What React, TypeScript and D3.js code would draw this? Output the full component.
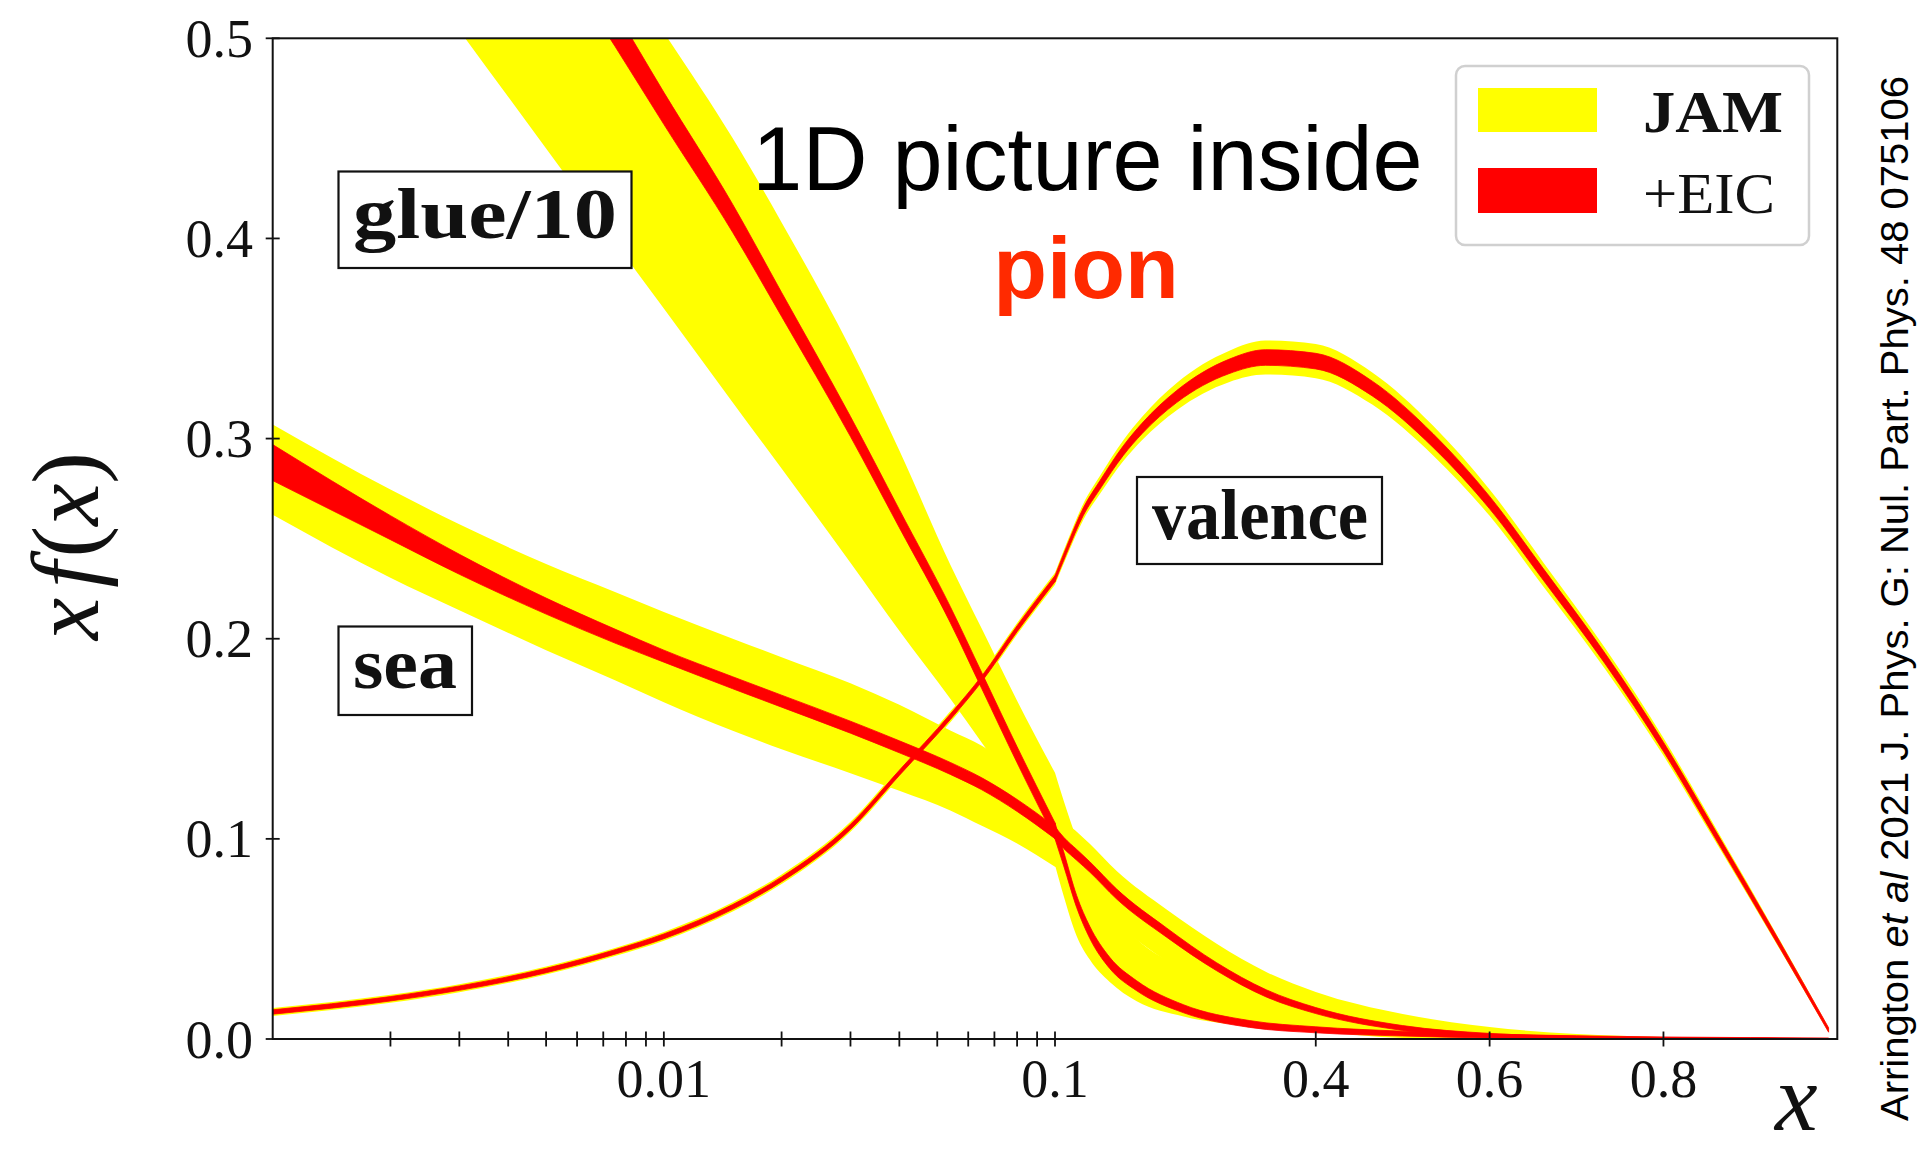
import React from "react";
import * as d3 from "d3";

// ---------------- data ----------------
// glue / 10
const glueX = [0.002, 0.003, 0.005, 0.0075, 0.01, 0.015, 0.02, 0.03, 0.04, 0.054, 0.065, 0.08, 0.1, 0.11, 0.125, 0.14, 0.163, 0.194, 0.248, 0.324, 0.4, 0.5, 0.6, 0.7, 0.8, 0.9, 0.99];
const glueMid = [0.677, 0.626, 0.559, 0.505, 0.465, 0.41, 0.367, 0.306, 0.26, 0.212, 0.179, 0.142, 0.104, 0.09, 0.0686, 0.0533, 0.038, 0.0266, 0.0151, 0.0075, 0.0046, 0.0027, 0.0015, 0.0008, 0.0004, 0.0002, 0.0];
const glueJamLo = [0.551, 0.504, 0.445, 0.398, 0.365, 0.318, 0.285, 0.238, 0.204, 0.17, 0.148, 0.122, 0.087, 0.0715, 0.0514, 0.0397, 0.0285, 0.0189, 0.0113, 0.0065, 0.004, 0.0022, 0.0012, 0.0006, 0.0003, 0.0001, 0.0];
const glueJamHi = [0.7, 0.65, 0.59, 0.54, 0.503, 0.45, 0.408, 0.345, 0.294, 0.237, 0.205, 0.169, 0.133, 0.119, 0.1, 0.085, 0.065, 0.05, 0.035, 0.02, 0.011, 0.005, 0.0025, 0.0012, 0.0006, 0.0002, 0.0];
const glueEicErr = [0.011, 0.0105, 0.0098, 0.009, 0.008, 0.007, 0.006, 0.005, 0.0045, 0.004, 0.004, 0.004, 0.004, 0.0035, 0.003, 0.003, 0.0028, 0.0025, 0.002, 0.0017, 0.0015, 0.0012, 0.001, 0.0008, 0.0006, 0.0005, 0.0004];

// sea
const seaX = [0.001, 0.002, 0.003, 0.005, 0.0075, 0.01, 0.015, 0.02, 0.03, 0.04, 0.054, 0.065, 0.08, 0.1, 0.11, 0.125, 0.14, 0.171, 0.228, 0.286, 0.343, 0.4, 0.5, 0.6, 0.7, 0.8, 0.9, 0.99];
const seaMid = [0.288, 0.2555, 0.2372, 0.2163, 0.2013, 0.1913, 0.178, 0.1688, 0.1558, 0.146, 0.1352, 0.1275, 0.1167, 0.1031, 0.098, 0.092, 0.086, 0.0724, 0.0533, 0.0361, 0.0228, 0.0142, 0.0055, 0.0018, 0.0006, 0.0002, 0.0001, 0.0];
const seaJamLo = [0.262, 0.2305, 0.2142, 0.1943, 0.1793, 0.1683, 0.154, 0.1448, 0.1328, 0.124, 0.1142, 0.1065, 0.0977, 0.0861, 0.084, 0.078, 0.072, 0.058, 0.039, 0.023, 0.011, 0.005, 0.0005, 0, 0, 0, 0, 0];
const seaJamHi = [0.307, 0.2745, 0.2572, 0.2373, 0.2233, 0.2133, 0.2, 0.1908, 0.1778, 0.167, 0.1542, 0.1465, 0.1337, 0.1181, 0.11, 0.1035, 0.0975, 0.0839, 0.0648, 0.0476, 0.0335, 0.0235, 0.0125, 0.006, 0.0025, 0.001, 0.0003, 0.0];
const seaEicErr = [0.009, 0.006, 0.005, 0.004, 0.0035, 0.003, 0.003, 0.003, 0.003, 0.003, 0.003, 0.003, 0.003, 0.003, 0.0028, 0.0027, 0.0026, 0.0025, 0.0023, 0.002, 0.0018, 0.0015, 0.0012, 0.001, 0.0008, 0.0006, 0.0005, 0.0004];

// valence
const valX = [0.001, 0.002, 0.003, 0.005, 0.0075, 0.01, 0.015, 0.02, 0.03, 0.04, 0.054, 0.065, 0.08, 0.1, 0.1134, 0.1326, 0.1518, 0.1786, 0.2, 0.24, 0.3, 0.342, 0.4, 0.465, 0.535, 0.6, 0.662, 0.733, 0.8, 0.86, 0.93, 0.99];
const valMid = [0.0135, 0.0201, 0.0254, 0.0342, 0.0435, 0.0513, 0.066, 0.0798, 0.106, 0.133, 0.161, 0.18, 0.205, 0.23, 0.2444, 0.2635, 0.2769, 0.294, 0.305, 0.321, 0.336, 0.3405, 0.3387, 0.325, 0.299, 0.268, 0.232, 0.19, 0.146, 0.102, 0.05, 0.0045];
const valJamErr = [0.002, 0.002, 0.002, 0.002, 0.002, 0.0022, 0.0023, 0.0024, 0.0025, 0.0026, 0.0027, 0.0028, 0.0029, 0.003, 0.0034, 0.004, 0.0045, 0.0052, 0.0058, 0.0068, 0.0078, 0.0085, 0.0085, 0.008, 0.0074, 0.0066, 0.006, 0.0052, 0.0044, 0.0035, 0.0024, 0.0012];
const valEicErr = [0.0011, 0.0011, 0.0011, 0.0011, 0.0011, 0.0012, 0.0012, 0.0012, 0.0013, 0.0013, 0.0014, 0.0014, 0.0015, 0.0015, 0.0017, 0.0019, 0.0021, 0.0024, 0.0026, 0.003, 0.0036, 0.0039, 0.0039, 0.0037, 0.0034, 0.0031, 0.0029, 0.0026, 0.0023, 0.002, 0.0016, 0.0011];

// axes
const yTicks = [0, 0.1, 0.2, 0.3, 0.4, 0.5];
const xLabelTicks = [0.01, 0.1, 0.4, 0.6, 0.8];
const xLinTicks = [0.4, 0.6, 0.8];
const legendLabels = ["JAM", "+EIC"];

// ---------------- layout ----------------
const W = 1921;
const H = 1151;
const L = 272.7;
const R = 1837.3;
const T = 38.3;
const B = 1039;
const MID = (L + R) / 2;
const SPLIT = 0.1;

const YELLOW = "#ffff00";
const RED = "#ff0000";
const SERIF = "'Liberation Serif', 'DejaVu Serif', serif";
const SANS = "'Liberation Sans', Arial, Helvetica, sans-serif";

const xLog = d3.scaleLog().domain([0.001, SPLIT]).range([L, MID]);
const xLin = d3.scaleLinear().domain([SPLIT, 1]).range([MID, R]);
const xs = (v: number) => (v <= SPLIT ? xLog(v) : xLin(v));
const ys = d3.scaleLinear().domain([0, 0.5]).range([B, T]);

type P = { x: number; lo: number; hi: number };

function bandPath(xArr: number[], lo: number[], hi: number[]): string {
  const pts: P[] = xArr.map((x, i) => ({ x, lo: lo[i], hi: hi[i] }));
  const left = pts.filter((p) => p.x <= SPLIT);
  const right = pts.filter((p) => p.x >= SPLIT);
  const area = d3
    .area<P>()
    .x((p) => xs(p.x))
    .y0((p) => ys(p.lo))
    .y1((p) => ys(p.hi))
    .curve(d3.curveMonotoneX);
  return (left.length > 1 ? area(left) || "" : "") + (right.length > 1 ? area(right) || "" : "");
}

const symLo = (m: number[], e: number[]) => m.map((v, i) => v - e[i]);
const symHi = (m: number[], e: number[]) => m.map((v, i) => v + e[i]);

function minorLogTicks(): number[] {
  const out: number[] = [];
  for (const dec of [0.001, 0.01]) {
    for (let k = 2; k <= 10; k++) out.push(+(k * dec).toPrecision(3));
  }
  return out;
}

export default function App() {
  const xTicks = [...minorLogTicks(), ...xLinTicks];
  const fmtY = d3.format(".1f");
  const fmtX = (v: number) => (v < 0.1 ? d3.format(".2f")(v) : d3.format(".1f")(v));

  const yellowBands = [
    bandPath(glueX, glueJamLo, glueJamHi),
    bandPath(seaX, seaJamLo, seaJamHi),
    bandPath(valX, symLo(valMid, valJamErr), symHi(valMid, valJamErr)),
  ];
  const redBands = [
    bandPath(seaX, symLo(seaMid, seaEicErr), symHi(seaMid, seaEicErr)),
    bandPath(glueX, symLo(glueMid, glueEicErr), symHi(glueMid, glueEicErr)),
    bandPath(valX, symLo(valMid, valEicErr), symHi(valMid, valEicErr)),
  ];

  return (
    <div style={{ position: "absolute", left: 0, top: 0 }}>
      <svg width={W} height={H} viewBox={`0 0 ${W} ${H}`} style={{ display: "block", background: "#fff" }}>
        <defs>
          <clipPath id="plotClip">
            <rect x={L} y={T} width={R - L} height={B - T} />
          </clipPath>
        </defs>
        <rect x={0} y={0} width={W} height={H} fill="#fff" />

        <g clipPath="url(#plotClip)">
          {yellowBands.map((d, i) => (
            <path key={"y" + i} d={d} fill={YELLOW} stroke="none" />
          ))}
          {redBands.map((d, i) => (
            <path key={"r" + i} d={d} fill={RED} stroke={RED} strokeWidth={0.8} />
          ))}
        </g>

        {/* frame */}
        <rect x={L} y={T} width={R - L} height={B - T} fill="none" stroke="#111" strokeWidth={2} />

        {/* y ticks */}
        {yTicks.map((t) => (
          <g key={"yt" + t}>
            <line x1={L - 7} x2={L + 7} y1={ys(t)} y2={ys(t)} stroke="#111" strokeWidth={1.8} />
            <text x={253} y={ys(t) + 18.5} textAnchor="end" fontFamily={SERIF} fontSize={54} fill="#111">
              {fmtY(t)}
            </text>
          </g>
        ))}

        {/* x ticks */}
        {xTicks.map((t) => (
          <line key={"xt" + t} x1={xs(t)} x2={xs(t)} y1={B - 7.5} y2={B + 7.5} stroke="#111" strokeWidth={1.8} />
        ))}
        {xLabelTicks.map((t) => (
          <text key={"xl" + t} x={xs(t)} y={1097} textAnchor="middle" fontFamily={SERIF} fontSize={54} fill="#111">
            {fmtX(t)}
          </text>
        ))}

        {/* axis labels */}
        <text x={1775} y={1130} fontFamily={SERIF} fontStyle="italic" fontSize={96} fill="#111">
          x
        </text>
        <text
          transform="translate(98,546) rotate(-90)"
          textAnchor="middle"
          fontFamily={SERIF}
          fontSize={95}
          fill="#111"
        >
          <tspan fontStyle="italic">x</tspan>
          <tspan fontStyle="italic" dx={10}>f</tspan>
          <tspan dx={4}>(</tspan>
          <tspan fontStyle="italic">x</tspan>
          <tspan>)</tspan>
        </text>

        {/* curve labels */}
        <rect x={338.5} y={171.5} width={293} height={96.5} fill="#fff" stroke="#111" strokeWidth={2.2} />
        <text x={353} y={237.5} fontFamily={SERIF} fontWeight="bold" fontSize={72} textLength={264} lengthAdjust="spacingAndGlyphs" fill="#111">
          glue/10
        </text>
        <rect x={338.5} y={626.5} width={133.5} height={88.5} fill="#fff" stroke="#111" strokeWidth={2.2} />
        <text x={353} y={688} fontFamily={SERIF} fontWeight="bold" fontSize={72} textLength={104} lengthAdjust="spacingAndGlyphs" fill="#111">
          sea
        </text>
        <rect x={1137} y={477} width={245} height={87} fill="#fff" stroke="#111" strokeWidth={2.2} />
        <text x={1152} y={539} fontFamily={SERIF} fontWeight="bold" fontSize={72} textLength={216} lengthAdjust="spacingAndGlyphs" fill="#111">
          valence
        </text>

        {/* title */}
        <text x={1087.5} y={190} textAnchor="middle" fontFamily={SANS} fontSize={90} fill="#000">
          1D picture inside
        </text>
        <text x={1086} y={298} textAnchor="middle" fontFamily={SANS} fontWeight="bold" fontSize={88} fill="#ff2a00">
          pion
        </text>

        {/* legend */}
        <rect x={1456} y={66} width={353} height={179} rx={9} ry={9} fill="#fff" stroke="#d0d0d0" strokeWidth={2.5} />
        <rect x={1478} y={88} width={119} height={44} fill={YELLOW} />
        <rect x={1478} y={168} width={119} height={45} fill={RED} />
        <text x={1643} y={131.5} fontFamily={SERIF} fontWeight="bold" fontSize={60} textLength={140} lengthAdjust="spacingAndGlyphs" fill="#111">
          {legendLabels[0]}
        </text>
        <text x={1643} y={212.5} fontFamily={SERIF} fontSize={58} textLength={132} lengthAdjust="spacingAndGlyphs" fill="#111">
          {legendLabels[1]}
        </text>

        {/* citation */}
        <text
          transform="translate(1908,598.5) rotate(-90)"
          textAnchor="middle"
          fontFamily={SANS}
          fontSize={38}
          fill="#000"
          textLength={1045}
          lengthAdjust="spacingAndGlyphs"
        >
          <tspan>Arrington </tspan>
          <tspan fontStyle="italic">et al</tspan>
          <tspan> 2021 J. Phys. G: Nul. Part. Phys. 48 075106</tspan>
        </text>
      </svg>
    </div>
  );
}
